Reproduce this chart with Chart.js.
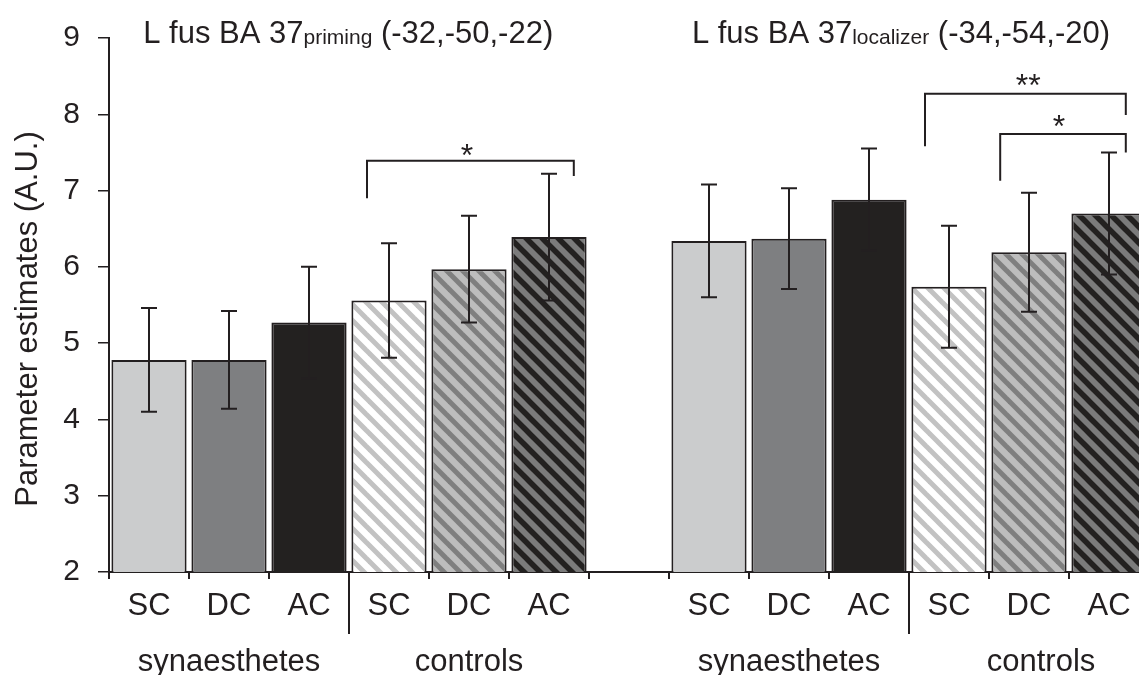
<!DOCTYPE html>
<html>
<head>
<meta charset="utf-8">
<script src="https://cdn.jsdelivr.net/npm/chart.js@4.4.1/dist/chart.umd.min.js"></script>
<style>
  html, body { margin: 0; padding: 0; background: #fff; overflow: hidden; }
  #wrap { width: 1139px; height: 675px; position: relative; }
</style>
</head>
<body>
<div id="wrap"><canvas id="chart" width="1139" height="675"></canvas></div>
<script>
// ---- data -------------------------------------------------------------
const conditions = ['SC', 'DC', 'AC'];
const groups = ['synaesthetes', 'controls'];

// L fus BA 37 (priming contrast) – parameter estimates and error
const primingSyn    = [4.78, 4.78, 5.27];
const primingSynErr = [0.68, 0.64, 0.73];
const primingCtl    = [5.56, 5.97, 6.39];
const primingCtlErr = [0.75, 0.70, 0.83];

// L fus BA 37 (localizer contrast)
const localizerSyn    = [6.34, 6.37, 6.88];
const localizerSynErr = [0.74, 0.66, 0.67];
const localizerCtl    = [5.74, 6.19, 6.70];
const localizerCtlErr = [0.80, 0.78, 0.80];

const yTicks = [2, 3, 4, 5, 6, 7, 8, 9];

// ---- layout of the two panels on one shared x scale ------------------
const FONT = '"Liberation Sans", Arial, Helvetica, sans-serif';
const INK = '#231f20';

const panels = [
  { name: 'L fus BA 37', sub: 'priming', coords: '(-32,-50,-22)', first: 0, titleAt: 2.49,
    values: [...primingSyn, ...primingCtl], errors: [...primingSynErr, ...primingCtlErr],
    groupAt: [1, 4] },
  { name: 'L fus BA 37', sub: 'localizer', coords: '(-34,-54,-20)', first: 7, titleAt: 9.4,
    values: [...localizerSyn, ...localizerCtl], errors: [...localizerSynErr, ...localizerCtlErr],
    groupAt: [8, 11.15] }
];

// significance brackets (x in slot units, y in parameter units)
const brackets = [
  { from: 2.725, to: 5.31, level: 7.39, leftEnd: 6.90, rightEnd: 7.19, mark: '*',  markX: 3.975, markY: 7.56 },
  { from: 9.70, to: 12.21, level: 8.27, leftEnd: 7.58, rightEnd: 7.99, mark: '**', markX: 10.99, markY: 8.47 },
  { from: 10.64, to: 12.21, level: 7.74, leftEnd: 7.13, rightEnd: 7.50, mark: '*',  markX: 11.375, markY: 7.94 }
];

// ---- fills ------------------------------------------------------------
const canvas = document.getElementById('chart');
const ctx = canvas.getContext('2d');

function stripes(bg, fg, size, lw) {
  const c = document.createElement('canvas');
  c.width = c.height = size;
  const g = c.getContext('2d');
  g.fillStyle = bg;
  g.fillRect(0, 0, size, size);
  g.strokeStyle = fg;
  g.lineWidth = lw;
  for (const k of [-1, 0, 1]) {
    g.beginPath();
    g.moveTo(k * size - 2, -2);
    g.lineTo(k * size + size + 2, size + 2);
    g.stroke();
  }
  return ctx.createPattern(c, 'repeat');
}

const conditionFills = [
  '#cbcccd', '#7e7f81', '#232120',
  stripes('#ffffff', '#c2c2c2', 16, 5),
  stripes('#bdbdbd', '#7f7f7f', 16, 5),
  stripes('#7b7b7b', '#232120', 16, 5.5)
];

// ---- build points -----------------------------------------------------
const points = [];
const fills = [];
const errs = [];
panels.forEach(p => {
  p.values.forEach((v, i) => {
    points.push({ x: p.first + i, y: v });
    fills.push(conditionFills[i]);
    errs.push(p.errors[i]);
  });
});

const slotEdges = [];
for (let i = 0; i <= 13; i++) slotEdges.push(i - 0.5);

// ---- drawing of text, error bars and brackets -----------------------
const annotate = {
  id: 'annotate',
  afterDatasetsDraw(chart) {
    const g = chart.ctx;
    const xs = chart.scales.x, ys = chart.scales.y;
    const area = chart.chartArea;
    const meta = chart.getDatasetMeta(0);

    g.save();
    g.strokeStyle = INK;
    g.fillStyle = INK;

    // error bars
    g.lineWidth = 2;
    meta.data.forEach((bar, i) => {
      const v = points[i].y, e = errs[i];
      const top = ys.getPixelForValue(v + e);
      const bot = ys.getPixelForValue(v - e);
      const x = Math.round(bar.x);
      g.beginPath();
      g.moveTo(x, top); g.lineTo(x, bot);
      g.moveTo(x - 8, top); g.lineTo(x + 8, top);
      g.moveTo(x - 8, bot); g.lineTo(x + 8, bot);
      g.stroke();
    });

    // significance brackets
    g.lineWidth = 2;
    brackets.forEach(b => {
      const x0 = xs.getPixelForValue(b.from), x1 = xs.getPixelForValue(b.to);
      const yl = ys.getPixelForValue(b.level);
      g.beginPath();
      g.moveTo(x0, ys.getPixelForValue(b.leftEnd));
      g.lineTo(x0, yl);
      g.lineTo(x1, yl);
      g.lineTo(x1, ys.getPixelForValue(b.rightEnd));
      g.stroke();
      g.font = '32px ' + FONT;
      g.textAlign = 'center';
      g.textBaseline = 'alphabetic';
      g.fillText(b.mark, xs.getPixelForValue(b.markX), ys.getPixelForValue(b.markY) + 18);
    });

    // condition labels, separators and group labels
    g.textAlign = 'center';
    g.textBaseline = 'alphabetic';
    const axisY = area.bottom;
    panels.forEach(p => {
      g.font = '31px ' + FONT;
      conditions.concat(conditions).forEach((lab, i) => {
        g.fillText(lab, xs.getPixelForValue(p.first + i), axisY + 43);
      });
      const sepX = Math.round(xs.getPixelForValue(p.first + 2.5));
      g.lineWidth = 2;
      g.beginPath();
      g.moveTo(sepX, axisY);
      g.lineTo(sepX, axisY + 62);
      g.stroke();
      groups.forEach((gl, k) => {
        g.fillText(gl, xs.getPixelForValue(p.groupAt[k]), axisY + 99);
      });

      // panel title with subscript contrast name
      const bigFont = '31px ' + FONT, smallFont = '21px ' + FONT;
      g.font = bigFont;
      const w1 = g.measureText(p.name).width;
      const w3 = g.measureText(' ' + p.coords).width;
      g.font = smallFont;
      const w2 = g.measureText(p.sub).width;
      let x = xs.getPixelForValue(p.titleAt) - (w1 + w2 + w3) / 2;
      g.textAlign = 'left';
      g.font = bigFont;
      g.fillText(p.name, x, 43);
      x += w1;
      g.font = smallFont;
      g.fillText(p.sub, x, 44);
      x += w2;
      g.font = bigFont;
      g.fillText(' ' + p.coords, x, 43);
      g.textAlign = 'center';
    });

    // y axis title
    g.font = '31px ' + FONT;
    g.translate(28, (area.top + area.bottom) / 2 + 14);
    g.rotate(-Math.PI / 2);
    g.textBaseline = 'middle';
    g.fillText('Parameter estimates (A.U.)', 0, 0);
    g.restore();
  }
};

new Chart(ctx, {
  type: 'bar',
  data: {
    datasets: [{
      data: points,
      backgroundColor: fills,
      borderColor: INK,
      borderWidth: 2,
      categoryPercentage: 1,
      barPercentage: 0.94
    }]
  },
  options: {
    responsive: false,
    animation: false,
    events: [],
    layout: { padding: { top: 38, left: 0, right: 0, bottom: 0 } },
    plugins: { legend: { display: false }, tooltip: { enabled: false }, title: { display: false } },
    scales: {
      x: {
        type: 'linear',
        min: -0.5,
        max: 12.375,
        offset: false,
        afterBuildTicks: s => { s.ticks = slotEdges.filter(v => v <= s.max).map(v => ({ value: v })); },
        afterFit: s => { s.height = 103; },
        ticks: { display: false },
        grid: { offset: false, drawOnChartArea: false, drawTicks: true, tickLength: 7, color: INK, lineWidth: 2 },
        border: { display: true, color: INK, width: 2 }
      },
      y: {
        min: 2,
        max: 9,
        afterBuildTicks: s => { s.ticks = yTicks.map(v => ({ value: v })); },
        afterFit: s => { s.width = 109; },
        ticks: { font: { family: FONT, size: 30 }, color: INK, padding: 18 },
        grid: { drawOnChartArea: false, tickLength: 11, color: INK, lineWidth: 1.5 },
        border: { color: INK, width: 2 }
      }
    }
  },
  plugins: [annotate]
});
</script>
</body>
</html>
